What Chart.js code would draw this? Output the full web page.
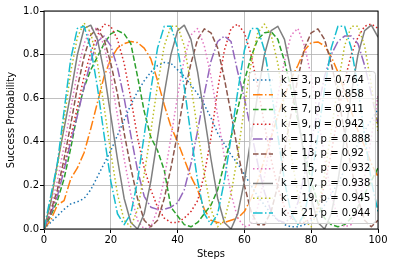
<!DOCTYPE html>
<html>
<head>
<meta charset="utf-8">
<script src="https://cdn.jsdelivr.net/npm/chart.js@4.4.0/dist/chart.umd.min.js"></script>
<style>
  html, body { margin: 0; padding: 0; background: #fff; }
  #wrap { width: 395px; height: 266px; }
</style>
</head>
<body>
<div id="wrap"><canvas id="chart" width="395" height="266"></canvas></div>
<script>
// data, one value every 2 steps
const steps = [0,2,4,6,8,10,12,14,16,18,20,22,24,26,28,30,32,34,36,38,40,42,44,46,48,50,52,54,56,58,60,62,64,66,68,70,72,74,76,78,80,82,84,86,88,90,92,94,96,98,100];

const k3  = [0,.03,.06,.09,.115,.125,.14,.18,.24,.3, .36,.43,.5,.57,.63,.68,.72,.75,.764,.76, .73,.7,.66,.62,.57,.51,.44,.39,.34,.3, .25,.2,.15,.11,.07,.04,.02,.01,.01,.02, .04,.07,.11,.16,.21,.27,.33,.39,.45,.5, .55];
const k5  = [0,.04,.11,.13,.23,.28,.35,.46,.58,.7, .78,.83,.85,.86,.855,.83,.78,.68,.57,.47, .4,.32,.24,.18,.09,.04,.03,.03,.04,.05, .08,.14,.22,.32,.42,.52,.61,.69,.75,.82, .855,.858,.84,.79,.72,.63,.54,.45,.38,.3, .24];
const k7  = [0,.06,.13,.23,.37,.53,.65,.73,.79,.85, .895,.91,.895,.85,.7,.54,.42,.36,.27,.1, .06,.02,.01,.03,.07,.11,.18,.3,.42,.55, .68,.79,.87,.9,.905,.87,.77,.64,.5,.35, .22,.12,.05,.02,.01,.02,.05,.1,.16,.22, .28];
const k9  = [0,.07,.16,.28,.42,.56,.7,.81,.89,.94, .93,.87,.76,.6,.42,.28,.18,.1,.05,.03, .03,.05,.08,.13,.25,.42,.64,.82,.92,.94, .9,.8,.65,.48,.32,.19,.1,.05,.03,.03, .05,.1,.2,.35,.52,.68,.8,.88,.93,.94, .92];
const k11 = [0,.07,.15,.27,.4,.52,.65,.77,.86,.885, .84,.74,.6,.43,.27,.15,.1,.09,.09,.1, .12,.18,.3,.45,.62,.77,.86,.885,.86,.72, .6,.45,.3,.17,.08,.04,.03,.05,.12,.25, .4,.55,.7,.8,.86,.885,.885,.85,.75,.62, .48];
const k13 = [0,.08,.18,.32,.48,.65,.79,.89,.92,.87, .76,.62,.44,.28,.14,.04,.01,.04,.14,.28, .44,.62,.76,.87,.918,.9,.83,.69,.53,.36, .2,.08,.02,.02,.08,.2,.36,.53,.69,.83, .9,.918,.87,.76,.62,.44,.28,.14,.04,.01, .04];
const k15 = [0,.1,.22,.38,.55,.72,.85,.92,.92,.84, .7,.52,.32,.16,.04,0,.01,.09,.23,.42, .61,.78,.89,.92,.84,.7,.52,.33,.16,.05, .01,.02,.1,.24,.42,.61,.77,.89,.92,.84, .7,.52,.33,.16,.05,.01,.02,.1,.24,.42, .61];
const k17 = [0,.12,.3,.46,.62,.8,.92,.935,.87,.72, .52,.32,.14,.03,0,.07,.22,.42,.62,.8, .91,.935,.87,.72,.52,.32,.14,.03,0,.07, .22,.42,.62,.8,.91,.93,.87,.72,.52,.32, .14,.03,0,.07,.22,.42,.62,.8,.91,.935, .88];
const k19 = [0,.13,.28,.5,.72,.88,.945,.9,.76,.56, .35,.16,.04,.01,.09,.25,.45,.66,.84,.93, .93,.84,.66,.45,.25,.09,.01,.04,.16,.34, .56,.76,.9,.94,.89,.76,.56,.34,.16,.04, .01,.09,.25,.45,.66,.84,.93,.93,.84,.66, .45];
const k21 = [0,.15,.3,.54,.78,.92,.93,.83,.65,.43, .22,.07,.02,.07,.22,.43,.64,.83,.93,.93, .83,.65,.43,.22,.07,.02,.07,.22,.42,.63, .82,.92,.92,.82,.64,.43,.22,.07,.02,.07, .22,.43,.64,.83,.93,.93,.83,.65,.43,.22, .08];

const series = [k3, k5, k7, k9, k11, k13, k15, k17, k19, k21];
const labels = ["k = 3, p = 0.764", "k = 5, p = 0.858", "k = 7, p = 0.911", "k = 9, p = 0.942", "k = 11, p = 0.888",
                "k = 13, p = 0.92", "k = 15, p = 0.932", "k = 17, p = 0.938", "k = 19, p = 0.945", "k = 21, p = 0.944"];
const xTicks = [0, 20, 40, 60, 80, 100];
const yTicks = [0, 0.2, 0.4, 0.6, 0.8, 1.0];

const colors = ["#1f77b4", "#ff7f0e", "#2ca02c", "#d62728", "#9467bd", "#8c564b", "#e377c2", "#7f7f7f", "#bcbd22", "#17becf"];
const dashes = {
  dotted: [1.5, 2.475],
  dashed: [5.55, 2.4],
  dashdot: [9.6, 2.4, 1.5, 2.4],
  solid: []
};
const lineStyles = ["dotted", "dashdot", "dashed", "dotted", "dashdot", "dashed", "dotted", "solid", "dotted", "dashdot"];

Chart.defaults.font.family = "'DejaVu Sans'";
Chart.defaults.font.size = 10;
Chart.defaults.color = "#000";

// axes frame on all four sides + matplotlib style legend box
const frameAndLegend = {
  id: "frameAndLegend",
  afterDatasetsDraw(chart) {
    const { ctx, chartArea: a } = chart;
    ctx.save();
    ctx.strokeStyle = "#000";
    ctx.lineWidth = 1;
    ctx.strokeRect(a.left, a.top, a.right - a.left, a.bottom - a.top);

    const bw = 126, bh = 152;
    const bx = a.right - 3 - bw, by = a.bottom - 6 - bh;
    ctx.beginPath();
    ctx.roundRect(bx + 0.5, by + 0.5, bw, bh, 3);
    ctx.fillStyle = "rgba(255,255,255,0.8)";
    ctx.fill();
    ctx.strokeStyle = "#cccccc";
    ctx.stroke();

    ctx.font = "10px 'DejaVu Sans'";
    ctx.textBaseline = "middle";
    ctx.fillStyle = "#000";
    labels.forEach((lab, i) => {
      const y = by + 9 + i * 14.78;
      ctx.beginPath();
      ctx.setLineDash(dashes[lineStyles[i]]);
      ctx.lineCap = "butt";
      ctx.strokeStyle = colors[i];
      ctx.lineWidth = 1.5;
      ctx.moveTo(bx + 4, y);
      ctx.lineTo(bx + 24, y);
      ctx.stroke();
      ctx.setLineDash([]);
      ctx.fillText(lab, bx + 32, y);
    });
    ctx.restore();
  }
};

new Chart(document.getElementById("chart"), {
  type: "line",
  data: {
    datasets: series.map((vals, i) => ({
      label: labels[i],
      data: vals.map((v, j) => ({ x: steps[j], y: v })),
      borderColor: colors[i],
      borderDash: dashes[lineStyles[i]],
      borderWidth: 1.5,
      borderCapStyle: "butt",
      borderJoinStyle: "round",
      pointRadius: 0,
      tension: 0,
      fill: false,
      order: series.length - i
    }))
  },
  options: {
    responsive: false,
    animation: false,
    layout: { padding: { top: 11, right: 17, left: 0, bottom: 0 } },
    plugins: { legend: { display: false }, tooltip: { enabled: false } },
    scales: {
      x: {
        type: "linear",
        min: 0,
        max: 100,
        afterBuildTicks: s => { s.ticks = xTicks.map(v => ({ value: v })); },
        ticks: { padding: 1, maxRotation: 0, color: "#000", callback: v => String(v) },
        grid: { color: "#b0b0b0", lineWidth: 0.8, tickColor: "#000", tickLength: 4, tickWidth: 1 },
        border: { display: false },
        title: { display: true, text: "Steps", color: "#000", padding: { top: 0, bottom: 6 } },
        afterFit: s => { s.height = 37; }
      },
      y: {
        min: 0,
        max: 1,
        afterBuildTicks: s => { s.ticks = yTicks.map(v => ({ value: v })); },
        ticks: { padding: 1, color: "#000", callback: v => v.toFixed(1) },
        grid: { color: "#b0b0b0", lineWidth: 0.8, tickColor: "#000", tickLength: 4, tickWidth: 1 },
        border: { display: false },
        title: { display: true, text: "Success Probability", color: "#000", padding: { top: 5, bottom: 0 } },
        afterFit: s => { s.width = 44; }
      }
    }
  },
  plugins: [frameAndLegend]
});
</script>
</body>
</html>
